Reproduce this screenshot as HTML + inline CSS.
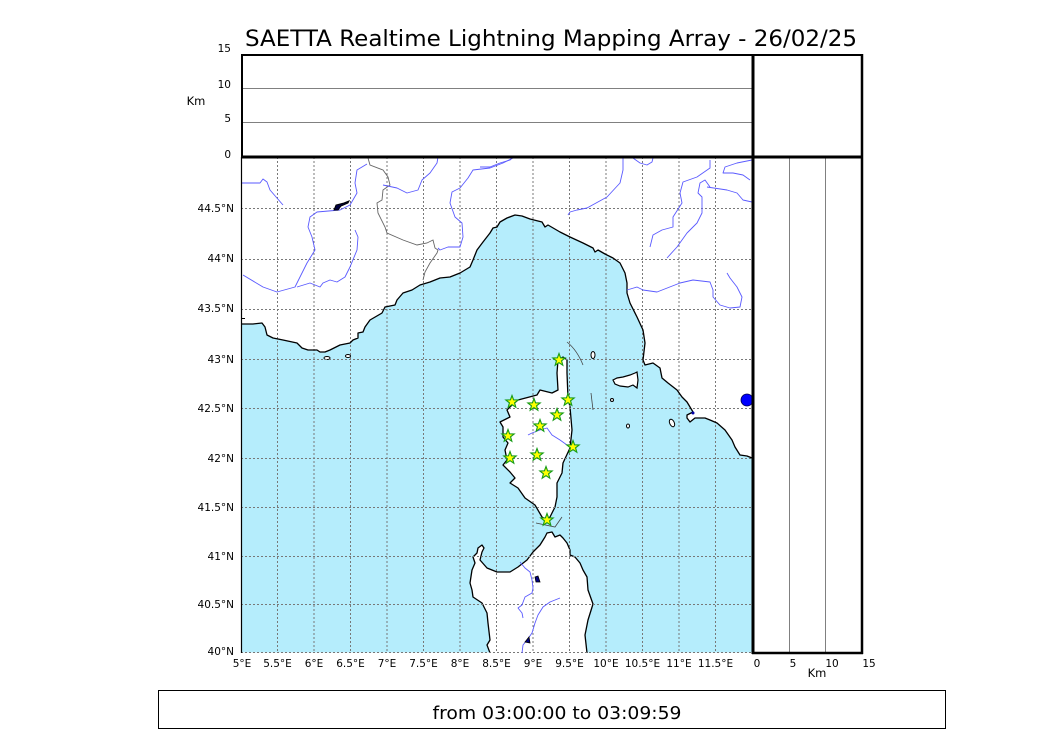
<!DOCTYPE html>
<html><head><meta charset="utf-8"><style>
html,body{margin:0;padding:0;background:#fff;}
svg{display:block;}
text{font-family:"DejaVu Sans","Liberation Sans",sans-serif;fill:#000;}
</style></head><body>
<svg width="1050" height="750" viewBox="0 0 1050 750" xmlns="http://www.w3.org/2000/svg">
<defs>
<polygon id="st" points="0,-6.5 1.59,-2.18 6.18,-2.01 2.57,0.83 3.82,5.26 0,2.7 -3.82,5.26 -2.57,0.83 -6.18,-2.01 -1.59,-2.18" fill="#ffff00" stroke="#169b16" stroke-width="1.1"/>
<clipPath id="mc"><rect x="241" y="157" width="511" height="496"/></clipPath>
</defs>
<rect width="1050" height="750" fill="#fff"/>
<text x="551" y="46" font-size="22" text-anchor="middle" textLength="612" lengthAdjust="spacingAndGlyphs">SAETTA Realtime Lightning Mapping Array - 26/02/25</text>

<g clip-path="url(#mc)">
<rect x="241" y="157" width="511" height="495.5" fill="#b5edfc"/>
<polygon fill="#fff" points="241,157 752,157 752,458 747,456 740,455 735,447 732,440 725,430 717,423 710,420 705,418 695,418 690,422 687,418 687,415 693,412 690,407 687,402 682,397 677,390 668,383 662,378 660,368 653,363 645,365 643,360 645,343 643,330 637,317 630,303 627,293 627,283 625,273 620,263 613,258 605,254 598,250 595,252 593,248 583,243 570,237 560,232 548,225 545,227 542,222 530,219 522,216 515,215 507,218 500,222 497,227 493,228 490,233 483,242 477,250 473,260 470,267 460,273 450,277 440,278 430,282 420,285 412,290 403,293 397,300 395,305 385,307 382,313 370,320 365,327 363,332 358,333 358,338 353,340 350,343 340,345 330,350 325,352 320,352 317,350 308,350 302,348 297,343 283,340 273,338 267,335 265,327 262,323 253,324 243,324 241,324"/>
<polygon fill="#fff" stroke="#000" stroke-width="1.3" stroke-linejoin="round" points="563,357 567,360 567,373 568,398 570,407 572,430 570,448 563,463 562,473 557,483 557,497 555,507 550,517 547,520 542,517 535,505 525,498 518,488 510,483 515,478 510,472 503,465 507,460 505,450 508,443 503,437 503,427 500,422 510,417 507,410 512,405 518,400 537,395 540,390 552,393 558,390 557,373 558,360"/>
<polygon fill="#fff" stroke="#000" stroke-width="1.3" stroke-linejoin="round" points="545,537 547,533 552,532 555,537 560,535 563,538 567,543 570,550 570,555 575,557 580,563 583,570 587,577 588,590 593,604 588,620 585,635 587,653 587,660 490,660 490,653 487,645 490,640 488,623 487,613 482,603 473,597 472,590 470,583 472,570 475,563 473,557 477,553 478,548 482,545 484,548 482,552 480,560 487,568 497,572 510,572 518,567 527,560 533,552 540,545"/>
<polygon fill="#fff" stroke="#000" stroke-width="1.2" points="613,380 617,378 623,377 630,375 635,373 637,372 638,380 637,388 633,385 628,387 620,386 615,384"/>
<ellipse cx="593" cy="355" rx="2" ry="3.5" fill="#fff" stroke="#000" stroke-width="1"/>
<ellipse cx="612" cy="400" rx="1.5" ry="1.5" fill="#fff" stroke="#000" stroke-width="1"/>
<ellipse cx="628" cy="426" rx="1.5" ry="2" fill="#fff" stroke="#000" stroke-width="1"/>
<ellipse cx="672" cy="423" rx="2.3" ry="4" fill="#fff" stroke="#000" stroke-width="1" transform="rotate(-25 672 423)"/>
<ellipse cx="327" cy="358" rx="3" ry="1.5" fill="#fff" stroke="#000" stroke-width="1"/>
<ellipse cx="348" cy="356" rx="2.5" ry="1.5" fill="#fff" stroke="#000" stroke-width="1"/>

<g stroke="#787878" stroke-width="1" stroke-dasharray="2,2" fill="none">
<path d="M277.5,157V653M314,157V653M350.5,157V653M387,157V653M423.5,157V653M460,157V653M496.5,157V653M533,157V653M569.5,157V653M606,157V653M642.5,157V653M679,157V653M715.5,157V653"/>
<path d="M241,208.5H752M241,259.5H752M241,309.5H752M241,359.5H752M241,408.5H752M241,458.5H752M241,507.5H752M241,556.5H752M241,604.5H752M241,652.5H752"/>
</g>

<polyline fill="none" stroke="#000" stroke-width="1.3" stroke-linejoin="round" points="752,458 747,456 740,455 735,447 732,440 725,430 717,423 710,420 705,418 695,418 690,422 687,418 687,415 693,412 690,407 687,402 682,397 677,390 668,383 662,378 660,368 653,363 645,365 643,360 645,343 643,330 637,317 630,303 627,293 627,283 625,273 620,263 613,258 605,254 598,250 595,252 593,248 583,243 570,237 560,232 548,225 545,227 542,222 530,219 522,216 515,215 507,218 500,222 497,227 493,228 490,233 483,242 477,250 473,260 470,267 460,273 450,277 440,278 430,282 420,285 412,290 403,293 397,300 395,305 385,307 382,313 370,320 365,327 363,332 358,333 358,338 353,340 350,343 340,345 330,350 325,352 320,352 317,350 308,350 302,348 297,343 283,340 273,338 267,335 265,327 262,323 253,324 243,324 241,324"/>
<path d="M241,318.5H245" stroke="#000" stroke-width="1"/>
<polyline fill="none" stroke="#666" stroke-width="0.9" points="368,158 370,165 383,170 388,177 390,185 383,190 382,200 377,203 378,213 385,227 387,233 403,240 417,245 427,243 433,240 435,248 438,250 437,253 430,263 425,272 423,280"/>
<g fill="none" stroke="#5a5aff" stroke-width="0.9" stroke-linejoin="round">
<polyline points="242,183 260,183 263,179 267,182 270,190 283,205"/>
<polyline points="367,164 357,170 355,183 357,193 350,205 340,210 317,212 310,217 308,227 312,237 315,250 307,263 300,277 295,287 277,292 263,287 243,275"/>
<polyline points="355,230 358,237 357,250 350,267 345,277 337,282 330,280 323,283 320,287 310,283 297,287"/>
<polyline points="383,185 397,188 407,193 418,190 422,180 430,173 437,163 438,157"/>
<polyline points="513,158 503,163 490,168 473,170 468,178 460,188 452,192 450,203 455,217 462,223 463,237 460,247 448,247 440,250 438,248"/>
<polyline points="480,167 490,167 500,163 510,160 513,157"/>
<polyline points="623,157 623,170 620,183 607,197 587,208 577,210 570,212 568,215"/>
<polyline points="633,158 640,163 647,165 652,162 653,158"/>
<polyline points="710,160 710,168 697,177 683,182 680,193 682,203 673,217 673,227 662,230 653,235 650,247"/>
<polyline points="752,160 737,163 725,167 723,173 733,173 743,175 750,180"/>
<polyline points="710,187 705,180 700,183 698,193 702,197 702,213 697,223 687,233 677,247 667,258"/>
<polyline points="707,187 727,190 737,193 743,200 752,202"/>
<polyline points="627,290 637,287 643,290 657,292 680,283 693,280 710,282 713,290 713,297 720,305 730,308 740,307 742,297 737,287 730,278 727,273"/>
<polyline points="528,435 532,433 540,430 547,428 552,435 560,440 567,445 572,448"/>
<polyline points="520,562 525,568 530,572 532,580 533,588 532,593 525,597 522,605 518,608 522,613 523,618"/>
<polyline points="560,598 550,602 543,607 538,615 535,623 532,633 527,640 523,645 522,653"/>
</g>
<path d="M334,210 L336,205 L344,203 L349,201 L348,203 L341,206 L338,210 Z" fill="#000040" stroke="#000" stroke-width="1"/>
<path d="M535,577 L538,576 L540,582 L536,582 Z" fill="#000080" stroke="#000" stroke-width="0.8"/>
<path d="M525,642 L529,637 L530,643 Z" fill="#000080" stroke="#000" stroke-width="0.8"/>
<circle cx="693" cy="413" r="1.5" fill="#0000aa"/>
<g fill="none" stroke="#444" stroke-width="0.8">
<path d="M567,342 Q577,350 583,365"/>
<path d="M591,393 L593,410"/>
<path d="M536,523 L555,527 L562,517"/>
</g>
<ellipse cx="747" cy="400" rx="6" ry="6" fill="#0000ff" stroke="#00004a" stroke-width="0.8"/>
</g>

<use href="#st" x="559" y="360"/>
<use href="#st" x="512" y="402"/>
<use href="#st" x="534" y="405"/>
<use href="#st" x="568" y="400"/>
<use href="#st" x="557" y="415"/>
<use href="#st" x="540" y="426"/>
<use href="#st" x="508" y="436"/>
<use href="#st" x="573" y="447"/>
<use href="#st" x="537" y="455"/>
<use href="#st" x="510" y="458"/>
<use href="#st" x="546" y="473"/>
<use href="#st" x="547" y="520"/>

<path d="M243,88.5H752M243,122.5H752" stroke="#808080" stroke-width="1"/>
<path d="M789.5,158V652M825.5,158V652" stroke="#808080" stroke-width="1"/>
<path d="M241.5,157V653" stroke="#000" stroke-width="1.2"/>
<rect x="242" y="55" width="620" height="102" fill="none" stroke="#000" stroke-width="2"/>
<path d="M241,157H863" stroke="#000" stroke-width="3"/>
<path d="M753,54V654" stroke="#000" stroke-width="3"/>
<path d="M862,54V654" stroke="#000" stroke-width="2.5"/>
<path d="M752,653H863" stroke="#000" stroke-width="2.5"/>

<g font-size="10.5" text-anchor="end">
<text x="231" y="52">15</text>
<text x="231" y="88">10</text>
<text x="231" y="122">5</text>
<text x="231" y="158">0</text>
<text x="234" y="212">44.5°N</text>
<text x="234" y="262">44°N</text>
<text x="234" y="312">43.5°N</text>
<text x="234" y="363">43°N</text>
<text x="234" y="412">42.5°N</text>
<text x="234" y="462">42°N</text>
<text x="234" y="511">41.5°N</text>
<text x="234" y="560">41°N</text>
<text x="234" y="608">40.5°N</text>
<text x="234" y="655">40°N</text>
</g>
<text x="196" y="105" font-size="11.5" text-anchor="middle">Km</text>
<g font-size="10.5" text-anchor="middle">
<text x="242" y="667">5°E</text>
<text x="277.5" y="667">5.5°E</text>
<text x="314" y="667">6°E</text>
<text x="350.5" y="667">6.5°E</text>
<text x="387" y="667">7°E</text>
<text x="423.5" y="667">7.5°E</text>
<text x="460" y="667">8°E</text>
<text x="496.5" y="667">8.5°E</text>
<text x="533" y="667">9°E</text>
<text x="569.5" y="667">9.5°E</text>
<text x="606" y="667">10°E</text>
<text x="642.5" y="667">10.5°E</text>
<text x="679" y="667">11°E</text>
<text x="715.5" y="667">11.5°E</text>
<text x="757" y="667">0</text>
<text x="793" y="667">5</text>
<text x="832" y="667">10</text>
<text x="869" y="667">15</text>
</g>
<text x="817" y="677" font-size="11.5" text-anchor="middle">Km</text>

<rect x="158.5" y="690.5" width="787" height="38" fill="#fff" stroke="#000" stroke-width="1"/>
<text x="557" y="719" font-size="18" text-anchor="middle" textLength="249" lengthAdjust="spacingAndGlyphs">from 03:00:00 to 03:09:59</text>
</svg>
</body></html>
